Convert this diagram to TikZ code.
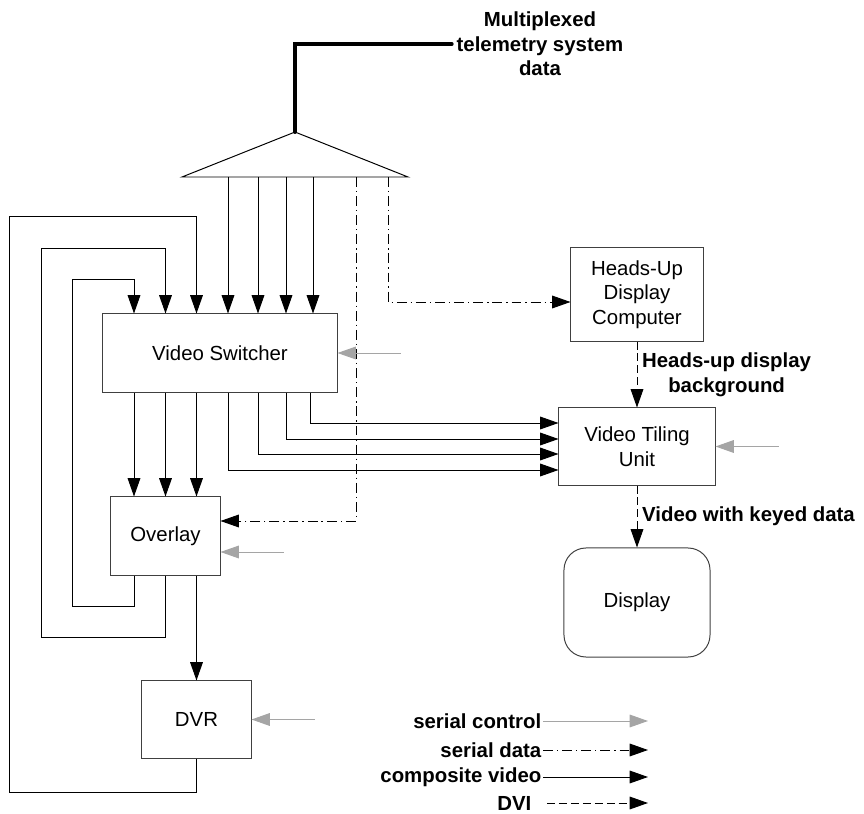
\documentclass[tikz,border=0pt]{standalone}
\usepackage{fontspec}
\setmainfont{Liberation Sans}
\usetikzlibrary{arrows.meta,calc,positioning}

\definecolor{ctlgray}{RGB}{165,165,165}
\newcommand{\dfont}{\fontsize{14.5}{17.5}\selectfont}

\tikzset{
  box/.style={draw=black!75, line width=0.7pt, align=center, inner sep=0pt},
  vid/.style={line width=0.7pt, -{Triangle[length=13pt,width=9pt]}},
  ser/.style={vid, dash pattern=on 7pt off 2.8pt on 1pt off 2.8pt},
  dvi/.style={vid, dash pattern=on 5.7pt off 2.8pt},
  ctl/.style={line width=0.7pt, draw=ctlgray, -{Triangle[length=13pt,width=9pt,fill=ctlgray]}},
  lbl/.style={font=\dfont\bfseries, align=center}
}

\begin{document}
\begin{tikzpicture}[x=0.025cm,y=-0.025cm,font=\dfont]
\useasboundingbox (0,0) rectangle (864,814);

% multiplexer and telemetry feed
\draw[line width=0.7pt] (182,177) -- (295,132) -- (408,177) -- cycle;
\coordinate (muxtop) at (295,132);
\node[lbl] (tlm) at (540,44) {Multiplexed\\telemetry system\\data};
\draw[line width=2.8pt, line cap=round] (muxtop) |- (tlm.west);

\foreach \x [count=\i] in {228,258,286,313,356,388}
  \coordinate (m\i) at (\x,177);

% blocks
\node[box, minimum width=5.85cm, minimum height=1.95cm] (sw) at (220,353) {Video Switcher};
\node[box, minimum width=2.725cm, minimum height=1.95cm] (ov) at (165.5,536) {Overlay};
\node[box, minimum width=2.725cm, minimum height=1.925cm] (dvr) at (196.5,719.5) {DVR};
\node[box, minimum width=3.3cm, minimum height=2.325cm] (hud) at (637,294.5) {Heads-Up\\Display\\Computer};
\node[box, minimum width=3.9cm, minimum height=1.925cm] (vtu) at (637,446.5) {Video Tiling\\Unit};
\node[box, rounded corners=0.55cm, minimum width=3.65cm, minimum height=2.725cm] (disp) at (637,602.5) {Display};

% composite video
\foreach \i in {1,...,4}
  \draw[vid] (m\i) -- (m\i |- sw.north);

\coordinate (k1) at (134,0);
\coordinate (k2) at (165.5,0);
\coordinate (k3) at (196.5,0);
\foreach \i in {1,2,3}
  \draw[vid] (k\i |- sw.south) -- (k\i |- ov.north);
\draw[vid] (k3 |- ov.south) -- (dvr.north);

\draw[vid] (k1 |- ov.south) -- ++(0,31) -| (72,279) -| (k1 |- sw.north);
\draw[vid] (k2 |- ov.south) -- ++(0,62) -| (41,248) -| (k2 |- sw.north);
\draw[vid] (dvr.south) -- ++(0,34) -| (9,216) -| (k3 |- sw.north);

\foreach \x/\y in {228/470,258/454,286/439,310/423}
  \draw[vid] (\x,0 |- sw.south) |- (vtu.west |- 0,\y);

% serial data
\draw[ser] (m6) |- (hud.west |- 0,302);
\draw[ser] (m5) |- (ov.east |- 0,521);

% DVI
\draw[dvi] (hud.south) -- node[lbl, right] {Heads-up display\\background} (vtu.north);
\draw[dvi] (vtu.south) -- node[lbl, right] {Video with keyed data} (disp.north);

% serial control
\draw[ctl] ($(sw.east)+(63,0)$) -- (sw.east);
\draw[ctl] ($(vtu.east)+(63,0)$) -- (vtu.east);
\draw[ctl] ($(ov.east |- 0,552)+(63,0)$) -- (ov.east |- 0,552);
\draw[ctl] ($(dvr.east)+(63,0)$) -- (dvr.east);

% legend
\node[lbl, anchor=east, inner xsep=1pt] (lg1) at (543,721) {serial control};
\node[lbl, anchor=east, inner xsep=1pt] (lg2) at (543,750) {serial data};
\node[lbl, anchor=east, inner xsep=1pt] (lg3) at (543,777) {composite video};
\node[lbl, anchor=east, inner xsep=1pt] (lg4) at (533,803) {DVI};
\coordinate (lgend) at (648,0);
\draw[ctl] (lg1.east) -- (lg1.east -| lgend);
\draw[ser] (lg2.east) -- (lg2.east -| lgend);
\draw[vid] (lg3.east) -- (lg3.east -| lgend);
\draw[dvi] ($(lg4.east)+(14,0)$) -- (lg4.east -| lgend);

\end{tikzpicture}
\end{document}
